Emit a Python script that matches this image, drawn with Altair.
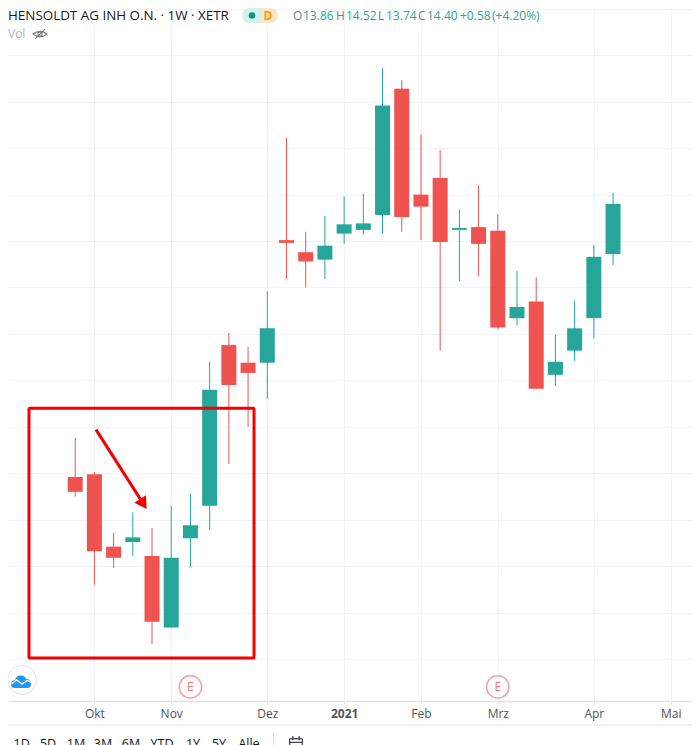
import altair as alt
import pandas as pd

# ---- data -------------------------------------------------------------
weeks = list(range(29))
opens = [11.46, 11.49, 10.71, 10.76, 10.61, 9.84, 10.80, 11.15, 12.88, 12.69,
         12.69, 14.01, 13.88, 13.80, 14.08, 14.12, 14.28, 15.64, 14.50, 14.68,
         14.12, 14.15, 14.11, 13.17, 13.35, 12.56, 12.82, 13.17, 13.86]
closes = [11.30, 10.66, 10.59, 10.81, 9.90, 10.59, 10.94, 12.40, 12.45, 12.58,
          13.06, 13.98, 13.78, 13.95, 14.18, 14.19, 15.46, 14.26, 14.37, 13.99,
          14.14, 13.97, 13.07, 13.29, 12.41, 12.70, 13.06, 13.83, 14.40]
highs = [11.88, 11.51, 10.86, 11.08, 10.91, 11.15, 11.28, 12.70, 13.01, 12.86,
         13.46, 15.11, 14.10, 14.27, 14.48, 14.51, 15.86, 15.73, 15.15, 14.98,
         14.34, 14.60, 14.29, 13.68, 13.61, 12.99, 13.36, 13.96, 14.52]
lows = [11.25, 10.30, 10.48, 10.61, 9.66, 9.84, 10.49, 10.89, 11.60, 12.00,
        12.30, 13.59, 13.50, 13.59, 13.97, 14.07, 14.08, 14.10, 14.01, 12.82,
        13.57, 13.62, 13.05, 13.09, 12.41, 12.44, 12.71, 12.95, 13.74]

tick_weeks = [1, 5, 10, 14, 18, 22, 27, 31]
tick_labels = ["Okt", "Nov", "Dez", "2021", "Feb", "Mrz", "Apr", "Mai"]
price_ticks = [9.5, 10, 10.5, 11, 11.5, 12, 12.5, 13, 13.5, 14, 14.5, 15, 15.5, 16, 16.5]
earnings_weeks = [6, 22]
earnings_price = 9.20
box = {"w0": -2.405, "w1": 9.31, "p0": 9.51, "p1": 12.20}
arrow_weeks = [1.083, 3.55]
arrow_prices = [11.97, 11.17]
range_labels = ["1D", "5D", "1M", "3M", "6M", "YTD", "1Y", "5Y", "Alle"]

# ---- styles -----------------------------------------------------------
UP, DOWN = "#26a69a", "#ef5350"
GRID = "#f0f3fa"
LINE = "#e0e3eb"
FONT = "Open Sans"
W, H = 684, 693

df = pd.DataFrame({"week": weeks, "open": opens, "close": closes, "high": highs, "low": lows})
df["dir"] = ["up" if c >= o else "down" for o, c in zip(opens, closes)]

x_scale = alt.Scale(domain=[-3.498, 32.11], nice=False, zero=False, padding=0)
y_scale = alt.Scale(domain=[9.048, 16.509], nice=False, zero=False, padding=0)
color = alt.Color("dir:N", scale=alt.Scale(domain=["up", "down"], range=[UP, DOWN]), legend=None)
label_map = "{" + ",".join(f"'{w}':'{t}'" for w, t in zip(tick_weeks, tick_labels)) + "}"

x_enc = alt.X("week:Q", scale=x_scale, axis=alt.Axis(
    title=None, values=tick_weeks, labelExpr=f"{label_map}[datum.value]",
    grid=True, gridColor=GRID, gridWidth=1, domainColor=LINE, domainWidth=1.5,
    tickColor=LINE, tickSize=3, labelColor="#50535e", labelFont=FONT, labelFontSize=12,
    labelPadding=4, labelFontWeight=alt.expr("datum.value == 14 ? 'bold' : 'normal'"),
    labelFlush=False, labelOverlap=False))
y_enc = alt.Y("low:Q", scale=y_scale, axis=alt.Axis(
    title=None, values=price_ticks, labels=False, ticks=False, domain=False,
    grid=True, gridColor=GRID, gridWidth=1))

wicks = alt.Chart(df).mark_rule(strokeWidth=1).encode(x=x_enc, y=y_enc, y2="high:Q", color=color)
bodies = alt.Chart(df).mark_bar(size=15).encode(
    x=alt.X("week:Q", scale=x_scale), y=alt.Y("open:Q", scale=y_scale), y2="close:Q", color=color)

box_chart = alt.Chart(pd.DataFrame([box])).mark_rect(
    fillOpacity=0, stroke="#f40000", strokeWidth=3, cornerRadius=1).encode(
    x=alt.X("w0:Q", scale=x_scale), x2="w1:Q", y=alt.Y("p0:Q", scale=y_scale), y2="p1:Q")

arrow_df = pd.DataFrame({"w": arrow_weeks, "p": arrow_prices})
arrow_line = alt.Chart(arrow_df).mark_line(color="#f40000", strokeWidth=3).encode(
    x=alt.X("w:Q", scale=x_scale), y=alt.Y("p:Q", scale=y_scale))
arrow_head = alt.Chart(arrow_df.tail(1)).mark_point(
    shape="triangle-up", size=190, angle=147, filled=True, color="#f40000", opacity=1).encode(
    x=alt.X("w:Q", scale=x_scale), y=alt.Y("p:Q", scale=y_scale))

earn_df = pd.DataFrame({"w": earnings_weeks, "p": [earnings_price] * len(earnings_weeks)})
earn_c = alt.Chart(earn_df).mark_point(
    shape="circle", size=500, filled=True, fill="white", stroke="#f7a0a6", strokeWidth=1.5, opacity=1).encode(
    x=alt.X("w:Q", scale=x_scale), y=alt.Y("p:Q", scale=y_scale))
earn_t = alt.Chart(earn_df).mark_text(
    text="E", color="#f0737a", font=FONT, fontSize=12, align="center", baseline="middle").encode(
    x=alt.X("w:Q", scale=x_scale), y=alt.Y("p:Q", scale=y_scale))

blank = alt.Data(values=[{}])


def label(text, x, y, color="#131722", size=12, align="left", weight="normal"):
    """Annotation text, x and y given in page pixels."""
    return alt.Chart(blank).mark_text(
        text=text, font=FONT, fontSize=size, color=color, align=align, baseline="middle",
        fontWeight=weight).encode(x=alt.value(x - 8), y=alt.value(y - 8))


def glyph(path, x, y, size, **kw):
    return alt.Chart(blank).mark_point(shape=path, size=size, opacity=1, **kw).encode(
        x=alt.value(x - 8), y=alt.value(y - 8))


def pill(x0, x1, fill, **kw):
    return alt.Chart(blank).mark_rect(fill=fill, **kw).encode(
        x=alt.value(x0 - 8), x2=alt.value(x1 - 8), y=alt.value(8 - 8), y2=alt.value(23 - 8))


GREY = "#787b86"
TEAL = "#26a69a"
HY = 16
header = [
    label("HENSOLDT AG INH O.N. · 1W · XETR", 8, HY, "#131722", 13.4),
    pill(242, 262, "#d7f0ec", cornerRadiusTopLeft=7.5, cornerRadiusBottomLeft=7.5),
    pill(262, 278, "#ffe6c7", cornerRadiusTopRight=7.5, cornerRadiusBottomRight=7.5),
    glyph("circle", 252, 15.5, 44, filled=True, fill="#089981", strokeWidth=0),
    label("D", 268, 15.5, "#ff9800", 12, "center", "bold"),
    label("O", 293, HY, GREY, 12), label("13.86", 303, HY, TEAL, 12),
    label("H", 336, HY, GREY, 12), label("14.52", 346, HY, TEAL, 12),
    label("L", 378, HY, GREY, 12), label("13.74", 386, HY, TEAL, 12),
    label("C", 418, HY, GREY, 12), label("14.40", 427, HY, TEAL, 12),
    label("+0.58", 460, HY, TEAL, 12), label("(+4.20%)", 492, HY, TEAL, 12),
    label("Vol", 8, 34, "#b2b5be", 12),
    glyph("M-1 0Q0 -0.75 1 0Q0 0.75 -1 0ZM-0.7 0.7L0.7 -0.7", 40, 34, 196,
          filled=False, stroke="#787b86", strokeWidth=1.1),
    glyph("circle", 40, 34, 18, filled=False, stroke="#787b86", strokeWidth=1.1),
]

logo = [
    glyph("circle", 22, 680, 841, filled=True, fill="white", stroke=LINE, strokeWidth=1),
    glyph("M-1 0.4Q-1 -0.1 -0.6 -0.1Q-0.45 -0.6 -0.05 -0.55Q0.35 -0.6 0.5 -0.2Q1 -0.2 1 0.3Q1 0.7 0.6 0.7L-0.6 0.7Q-1 0.7 -1 0.4Z",
          21, 681, 400, filled=True, fill="#2196f3", strokeWidth=0),
    glyph("M-0.95 0.3L-0.45 -0.1L0.1 0.3L0.6 -0.05L1 0.1", 21, 681, 400,
          filled=False, stroke="white", strokeWidth=1.4),
]

bottom_rule = alt.Chart(blank).mark_rule(color=LINE, strokeWidth=1).encode(
    x=alt.value(0), x2=alt.value(W), y=alt.value(725 - 8))
sep_rule = alt.Chart(blank).mark_rule(color=LINE, strokeWidth=1).encode(
    x=alt.value(273.5 - 8), y=alt.value(733 - 8), y2=alt.value(745 - 8))
range_x = [21.7, 48, 76, 103, 131, 162, 193, 219, 249]
buttons = [label(t, x, 744, "#131722", 12.5, "center") for t, x in zip(range_labels, range_x)]
cal = glyph("M-0.9 -0.6H0.9V1.2H-0.9ZM-0.9 -0.1H0.9M-0.45 -1V-0.4M0.45 -1V-0.4", 296, 743, 196,
            filled=False, stroke="#131722", strokeWidth=1)

chart = alt.layer(
    wicks, bodies, earn_c, earn_t, box_chart, arrow_line, arrow_head,
    *header, *logo, bottom_rule, sep_rule, *buttons, cal
).properties(
    width=W, height=H, background="white",
    padding={"left": 0, "top": 0, "right": 0, "bottom": 44},
    autosize=alt.AutoSizeParams(type="none"),
).configure_view(stroke=None)

chart.save("out.html", embed_options={"renderer": "svg", "actions": False})
